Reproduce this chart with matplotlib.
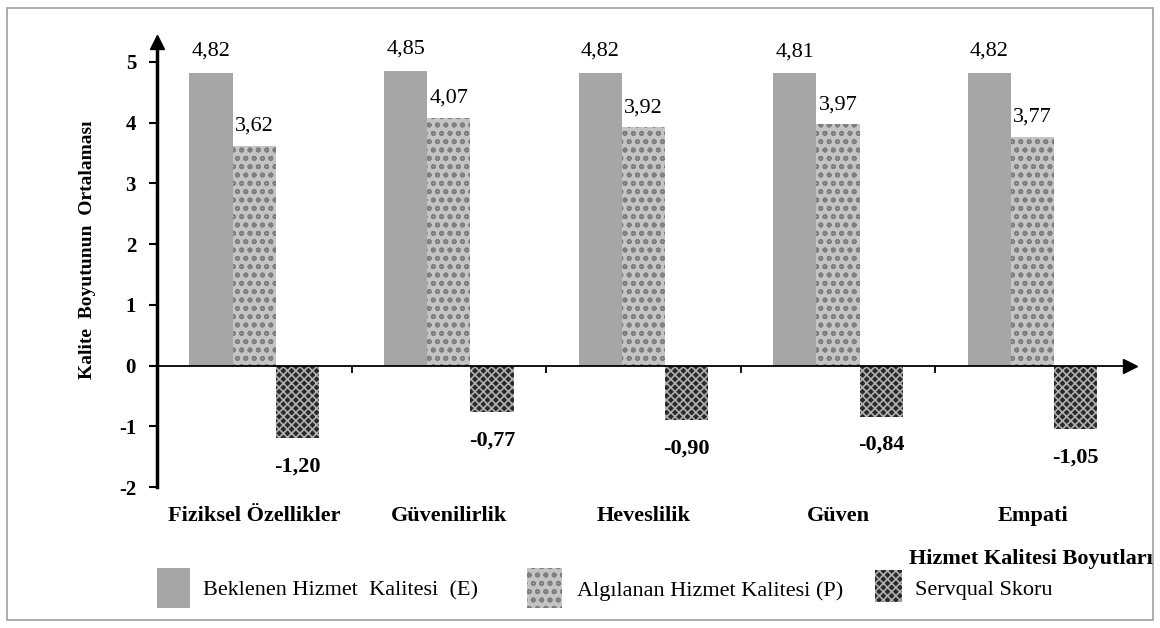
import numpy as np
import matplotlib
matplotlib.use('Agg')
import matplotlib.pyplot as plt
from matplotlib.patches import Rectangle

# data
categories = ['Fiziksel Özellikler', 'Güvenilirlik', 'Heveslilik', 'Güven', 'Empati']
expected = [4.82, 4.85, 4.82, 4.81, 4.82]
perceived = [3.62, 4.07, 3.92, 3.97, 3.77]
servqual = [-1.20, -0.77, -0.90, -0.84, -1.05]
series_names = ['Beklenen Hizmet  Kalitesi  (E)', 'Algılanan Hizmet Kalitesi (P)', 'Servqual Skoru']
yticks = [-2, -1, 0, 1, 2, 3, 4, 5]

plt.rcParams['font.family'] = ['Liberation Serif', 'DejaVu Serif']
plt.rcParams['hatch.linewidth'] = 1.2

# bar styles
sty_e = dict(facecolor='#a6a6a6', edgecolor='none')
sty_p = dict(facecolor='#c4c4c4', edgecolor='#7e7e7e', hatch='oo', linewidth=0)
sty_s = dict(facecolor='#2a2a2a', edgecolor='#b0b0b0', hatch='xxxx', linewidth=0)

fig = plt.figure(figsize=(11.6, 6.28), dpi=100)
ax = fig.add_axes([0.1353, 0.2245, 0.974 - 0.1353, 0.709])

x = np.arange(len(categories)) + 0.5
w = 0.222
ax.bar(x - w, expected, w, **sty_e)
ax.bar(x, perceived, w, **sty_p)
ax.bar(x + w, servqual, w, **sty_s)

for i in range(len(categories)):
    ax.text(x[i] - w, expected[i] + 0.2, f'{expected[i]:.2f}'.replace('.', ','),
            ha='center', va='bottom', fontsize=16)
    ax.text(x[i], perceived[i] + 0.17, f'{perceived[i]:.2f}'.replace('.', ','),
            ha='center', va='bottom', fontsize=16)
    ax.text(x[i] + w, servqual[i] - 0.46, f'{servqual[i]:.2f}'.replace('.', ','),
            ha='center', va='center', fontsize=16, fontweight='bold')
    ax.text(x[i], -2.48, categories[i], ha='center', va='center',
            fontsize=16, fontweight='bold', clip_on=False)

ax.set_xlim(0, 5.0)
ax.set_ylim(-2, 5.33)
ax.spines['top'].set_visible(False)
ax.spines['right'].set_visible(False)
ax.spines['bottom'].set_position(('data', 0))
ax.spines['left'].set_linewidth(2.5)
ax.spines['left'].set_bounds(-2, 5.33)
ax.spines['bottom'].set_linewidth(1.3)
ax.set_xticks([1, 2, 3, 4])
ax.set_xticklabels([])
ax.tick_params(axis='x', direction='out', length=5, width=1.3)
ax.set_yticks(yticks)
ax.set_yticklabels([str(t) for t in yticks], fontsize=15, fontweight='bold')
ax.tick_params(axis='y', direction='out', length=6, width=1.5, pad=9)

# arrow heads
ax.plot(0, 1, marker='^', color='black', markersize=10, transform=ax.transAxes, clip_on=False)
ax.plot(1, 0, marker='>', color='black', markersize=10,
        transform=ax.get_yaxis_transform(), clip_on=False)

fig.text(88 / 1160, 1 - 250 / 628, 'Kalite  Boyutunun  Ortalaması', rotation=90,
         ha='center', va='center', fontsize=14, fontweight='bold')

fig.text(0.994, 1 - 559 / 628, 'Hizmet Kalitesi Boyutları', ha='right', va='center',
         fontsize=16, fontweight='bold')

# legend drawn by hand
leg = [(157, 568, 33, 40, sty_e, 203), (527, 568, 35, 40, sty_p, 577), (875, 570, 27, 32, sty_s, 915)]
for (px, py, pw, ph, st, tx), name in zip(leg, series_names):
    fig.patches.append(Rectangle((px / 1160, 1 - (py + ph) / 628), pw / 1160, ph / 628,
                                 transform=fig.transFigure, **st))
    fig.text(tx / 1160, 1 - 591 / 628, name, ha='left', va='center', fontsize=16)

# outer border
fig.patches.append(Rectangle((0.006, 0.012), 0.988, 0.976, transform=fig.transFigure,
                             fill=False, edgecolor='#a0a0a0', linewidth=1.2))

fig.savefig('out.png', dpi=100)
